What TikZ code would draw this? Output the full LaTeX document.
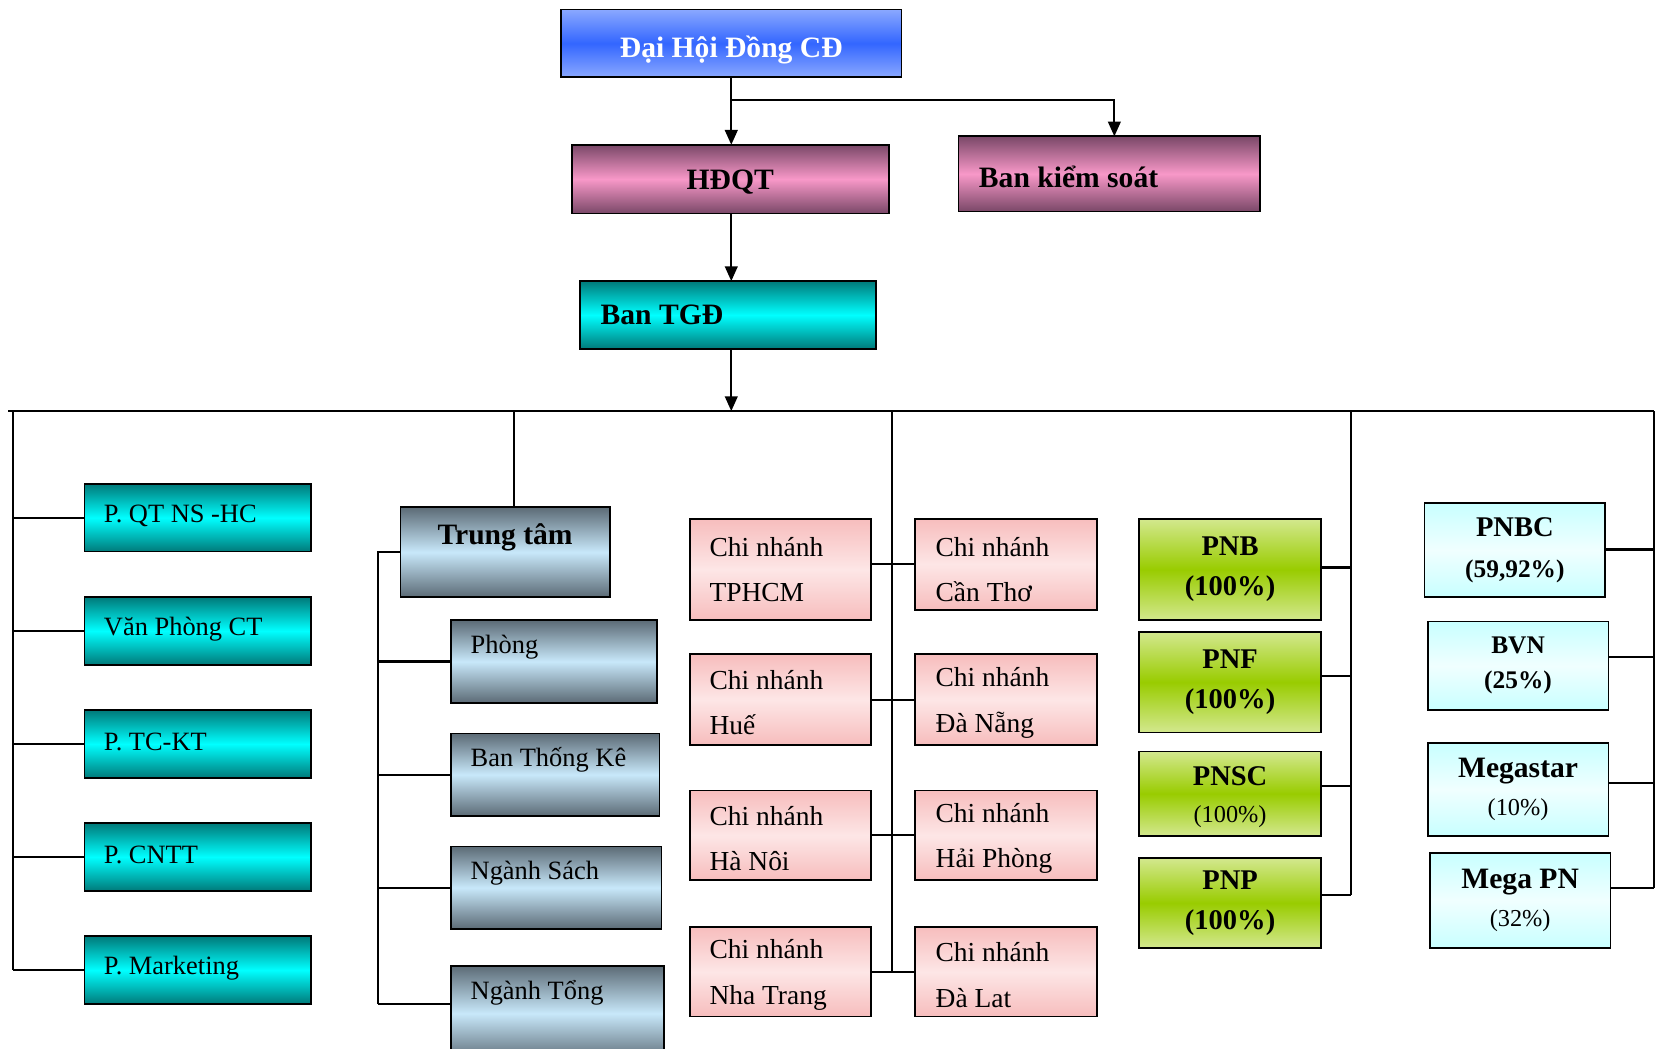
\documentclass[tikz,border=0pt]{standalone}
\usepackage{fontspec}
\setmainfont{Liberation Serif}
\usetikzlibrary{arrows.meta}
\definecolor{blueE}{HTML}{8AA8FF}
\definecolor{blueM}{HTML}{3366FF}
\definecolor{mauveE}{HTML}{7A4868}
\definecolor{mauveM}{HTML}{F898C8}
\definecolor{tealE}{HTML}{007A7A}
\definecolor{tealM}{HTML}{00FFFF}
\definecolor{slateE}{HTML}{5C6B76}
\definecolor{slateM}{HTML}{C8E8FA}
\definecolor{pinkE}{HTML}{F7BDBD}
\definecolor{pinkM}{HTML}{FDE6E6}
\definecolor{greenE}{HTML}{D3E88E}
\definecolor{greenM}{HTML}{99CC00}
\definecolor{cyanE}{HTML}{C8FFFF}
\definecolor{cyanM}{HTML}{F0FFFF}
\newcommand\ubox[7]{\node[#1, minimum width={(#5-#3)*0.5pt}, minimum height={(#6-#4)*0.5pt}] (#2) at ({(#3+#5)/2},{(#4+#6)/2}) {#7};}
\newcommand\myfTop{\fontsize{14}{16}\selectfont\bfseries}
\newcommand\myfP{\fontsize{12.5}{15}\selectfont}
\newcommand\myfCN{\fontsize{13}{21.5}\selectfont}
\begin{document}
\begin{tikzpicture}[x=0.5pt,y=-0.5pt,
  box/.style={draw=black, line width=0.8pt, inner sep=0pt, outer sep=0pt},
  bluebox/.style={box, top color=blueE, bottom color=blueE, middle color=blueM},
  mauvebox/.style={box, top color=mauveE, bottom color=mauveE, middle color=mauveM},
  tealbox/.style={box, top color=tealE, bottom color=tealE, middle color=tealM},
  slatebox/.style={box, top color=slateE, bottom color=slateE, middle color=slateM},
  pinkbox/.style={box, top color=pinkE, bottom color=pinkE, middle color=pinkM},
  greenbox/.style={box, top color=greenE, bottom color=greenE, middle color=greenM, align=center, font=\fontsize{13.5}{19}\selectfont\bfseries},
  cyanbox/.style={box, top color=cyanE, bottom color=cyanE, middle color=cyanM, align=center},
  lefttext/.style={anchor=west, inner sep=0pt},
  ln/.style={draw=black, line width=1pt},
  arr/.style={ln, -{Triangle[length=7pt,width=6pt]}},
]
\fill[white] (0,0) rectangle (1568,992);
\useasboundingbox (0,0) rectangle (1568,992);

% top level
\ubox{bluebox}{dh}{531}{9}{853}{73}{}
\node[font=\myfTop, text=white, inner sep=0pt] (dhT) at ([yshift=-3pt]dh.center) {Đại Hội Đồng CĐ};
\ubox{mauvebox}{hdqt}{541}{137}{841}{202}{}
\node[font=\myfTop, inner sep=0pt] (hdqtT) at ([yshift=-1.5pt]hdqt.center) {HĐQT};
\ubox{mauvebox}{bks}{907}{129}{1192}{200}{}
\node[lefttext, font=\myfTop] (bksT) at ([xshift=9.5pt,yshift=-1.5pt]bks.west) {Ban kiểm soát};
\ubox{tealbox}{tgd}{549}{266}{829}{330}{}
\node[lefttext, font=\myfTop] (tgdT) at ([xshift=9.5pt]tgd.west) {Ban TGĐ};

% left column
\ubox{tealbox}{pqt}{80}{458}{294}{522}{}
\ubox{tealbox}{vpct}{80}{565}{294}{629}{}
\ubox{tealbox}{ptc}{80}{672}{294}{736}{}
\ubox{tealbox}{pcntt}{80}{779}{294}{843}{}
\ubox{tealbox}{pmkt}{80}{886}{294}{950}{}
\node[lefttext, font=\myfP] (pqtT) at ([xshift=9pt,yshift=1pt]pqt.west) {P. QT NS -HC};
\node[lefttext, font=\myfP] (vpctT) at ([xshift=9pt,yshift=1pt]vpct.west) {Văn Phòng CT};
\node[lefttext, font=\myfP] (ptcT) at ([xshift=9pt,yshift=1pt]ptc.west) {P. TC-KT};
\node[lefttext, font=\myfP] (pcnttT) at ([xshift=9pt,yshift=1pt]pcntt.west) {P. CNTT};
\node[lefttext, font=\myfP] (pmktT) at ([xshift=9pt,yshift=1pt]pmkt.west) {P. Marketing};

% Trung tam
\ubox{slatebox}{tt}{379}{480}{577}{565}{}
\node[font=\myfTop, inner sep=0pt] (ttT) at ([yshift=-14pt]tt.north) {Trung tâm};
\ubox{slatebox}{phong}{427}{587}{622}{665}{}
\ubox{slatebox}{btk}{427}{694}{624}{772}{}
\ubox{slatebox}{nsach}{427}{801}{626}{879}{}
\ubox{slatebox}{ntong}{427}{914}{628}{1004}{}
\node[lefttext, font=\myfP] (phongT) at ([xshift=9pt,yshift=-12.5pt]phong.north west) {Phòng};
\node[lefttext, font=\myfP] (btkT) at ([xshift=9pt,yshift=-12.5pt]btk.north west) {Ban Thống Kê};
\node[lefttext, font=\myfP] (nsachT) at ([xshift=9pt,yshift=-12.5pt]nsach.north west) {Ngành Sách};
\node[lefttext, font=\myfP] (ntongT) at ([xshift=9pt,yshift=-12.5pt]ntong.north west) {Ngành Tổng};

% Chi nhanh
\ubox{pinkbox}{cnL1}{653}{491}{824}{587}{}
\ubox{pinkbox}{cnR1}{866}{491}{1038}{577}{}
\ubox{pinkbox}{cnL2}{653}{619}{824}{705}{}
\ubox{pinkbox}{cnR2}{866}{619}{1038}{705}{}
\ubox{pinkbox}{cnL3}{653}{748}{824}{833}{}
\ubox{pinkbox}{cnR3}{866}{748}{1038}{833}{}
\ubox{pinkbox}{cnL4}{653}{877}{824}{962}{}
\ubox{pinkbox}{cnR4}{866}{877}{1038}{962}{}
\node[lefttext, align=left, font=\myfCN] (cnL1T) at ([xshift=9pt]cnL1.west) {Chi nhánh\\TPHCM};
\node[lefttext, align=left, font=\myfCN] (cnR1T) at ([xshift=9.5pt]cnR1.west |- cnL1.west) {Chi nhánh\\Cần Thơ};
\node[lefttext, align=left, font=\myfCN] (cnL2T) at ([xshift=9pt,yshift=-1.5pt]cnL2.west) {Chi nhánh\\Huế};
\node[lefttext, align=left, font=\myfCN] (cnR2T) at ([xshift=9.5pt,yshift=-1.5pt]cnR2.west) {Chi nhánh\\Đà Nẵng};
\node[lefttext, align=left, font=\myfCN] (cnL3T) at ([xshift=9pt,yshift=-1.5pt]cnL3.west) {Chi nhánh\\Hà Nôi};
\node[lefttext, align=left, font=\myfCN] (cnR3T) at ([xshift=9.5pt,yshift=-1.5pt]cnR3.west) {Chi nhánh\\Hải Phòng};
\node[lefttext, align=left, font=\myfCN] (cnL4T) at ([xshift=9pt,yshift=-1.5pt]cnL4.west) {Chi nhánh\\Nha Trang};
\node[lefttext, align=left, font=\myfCN] (cnR4T) at ([xshift=9.5pt,yshift=-1.5pt]cnR4.west) {Chi nhánh\\Đà Lat};

% green subsidiaries
\ubox{greenbox}{pnb}{1078}{491}{1250}{587}{PNB\\(100\%)}
\ubox{greenbox}{pnf}{1078}{598}{1250}{693}{PNF\\(100\%)}
\ubox{greenbox}{pnsc}{1078}{711}{1250}{791}{}
\node[align=center, inner sep=0pt, font=\fontsize{13.5}{17.5}\selectfont\bfseries] (pnscT) at ([yshift=-1.5pt]pnsc.center) {PNSC\\{\fontsize{11.5}{17.5}\selectfont\mdseries (100\%)}};
\ubox{greenbox}{pnp}{1078}{812}{1250}{897}{PNP\\(100\%)}

% associates
\ubox{cyanbox, font=\fontsize{13.5}{19.5}\selectfont\bfseries}{pnbc}{1348}{476}{1519}{565}{PNBC\\{\fontsize{12}{19.5}\selectfont (59,92\%)}}
\ubox{cyanbox, font=\fontsize{12}{16.5}\selectfont\bfseries}{bvn}{1351}{588}{1522}{672}{BVN\\(25\%)}
\ubox{cyanbox, font=\fontsize{14}{18}\selectfont\bfseries}{mgs}{1351}{703}{1522}{791}{Megastar\\{\fontsize{11.5}{18}\selectfont\mdseries (10\%)}}
\ubox{cyanbox, font=\fontsize{14}{18}\selectfont\bfseries}{mpn}{1353}{807}{1524}{897}{Mega PN\\{\fontsize{11.5}{18}\selectfont\mdseries (32\%)}}

% connectors top
\draw[arr] (dh.south) -- (dh.south |- hdqt.north);
\draw[arr] (dh.south) ++(0,22) -| ([xshift=2.5pt]bks.north);
\draw[arr] (dh.south |- hdqt.south) -- (dh.south |- tgd.north);
\coordinate (busL) at (8,389);
\coordinate (busR) at (1565,389);
\draw[arr] (dh.south |- tgd.south) -- (dh.south |- busL);
\draw[ln] (busL) -- (busR);

% left vertical
\coordinate (lvT) at (12,389);
\coordinate (lvB) at (12,918);
\draw[ln] (lvT) -- (lvB);
\foreach \b in {pqt,vpct,ptc,pcntt,pmkt} \draw[ln] (lvT |- \b.west) -- (\b.west);

% Trung tam tree
\coordinate (ttTop) at (486,389);
\draw[ln] (ttTop) -- (ttTop |- tt.north);
\coordinate (tvB) at (358,950);
\draw[ln] (tt.west) -| (tvB);
\foreach \b in {phong,btk,nsach} \draw[ln] (tvB |- \b.west) -- (\b.west);
\draw[ln] (tvB) -- (tvB -| ntong.west);

% Chi nhanh tree
\coordinate (cvT) at (844,389);
\coordinate (cvB) at (844,919);
\draw[ln] (cvT) -- (cvB);
\foreach \i in {1,2,3,4} \draw[ln] (cnL\i.east |- cnR\i.west) -- (cnR\i.west);

% green tree
\coordinate (gvT) at (1278,389);
\coordinate (gvB) at (1278,847);
\draw[ln] (gvT) -- (gvB);
\draw[ln] (pnb.east |- 0,537) -- (gvT |- 0,537);
\draw[ln] (pnf.east |- 0,640) -- (gvT |- 0,640);
\draw[ln] (pnsc.east |- 0,744) -- (gvT |- 0,744);
\draw[ln] (pnp.east |- 0,847) -- (gvB);

% right tree
\coordinate (rvT) at (1565,389);
\coordinate (rvB) at (1565,840);
\draw[ln] (rvT) -- (rvB);
\draw[ln] (pnbc.east |- 0,520) -- (rvT |- 0,520);
\draw[ln] (bvn.east |- 0,622) -- (rvT |- 0,622);
\draw[ln] (mgs.east |- 0,741) -- (rvT |- 0,741);
\draw[ln] (mpn.east |- 0,840) -- (rvB);
\end{tikzpicture}
\end{document}
